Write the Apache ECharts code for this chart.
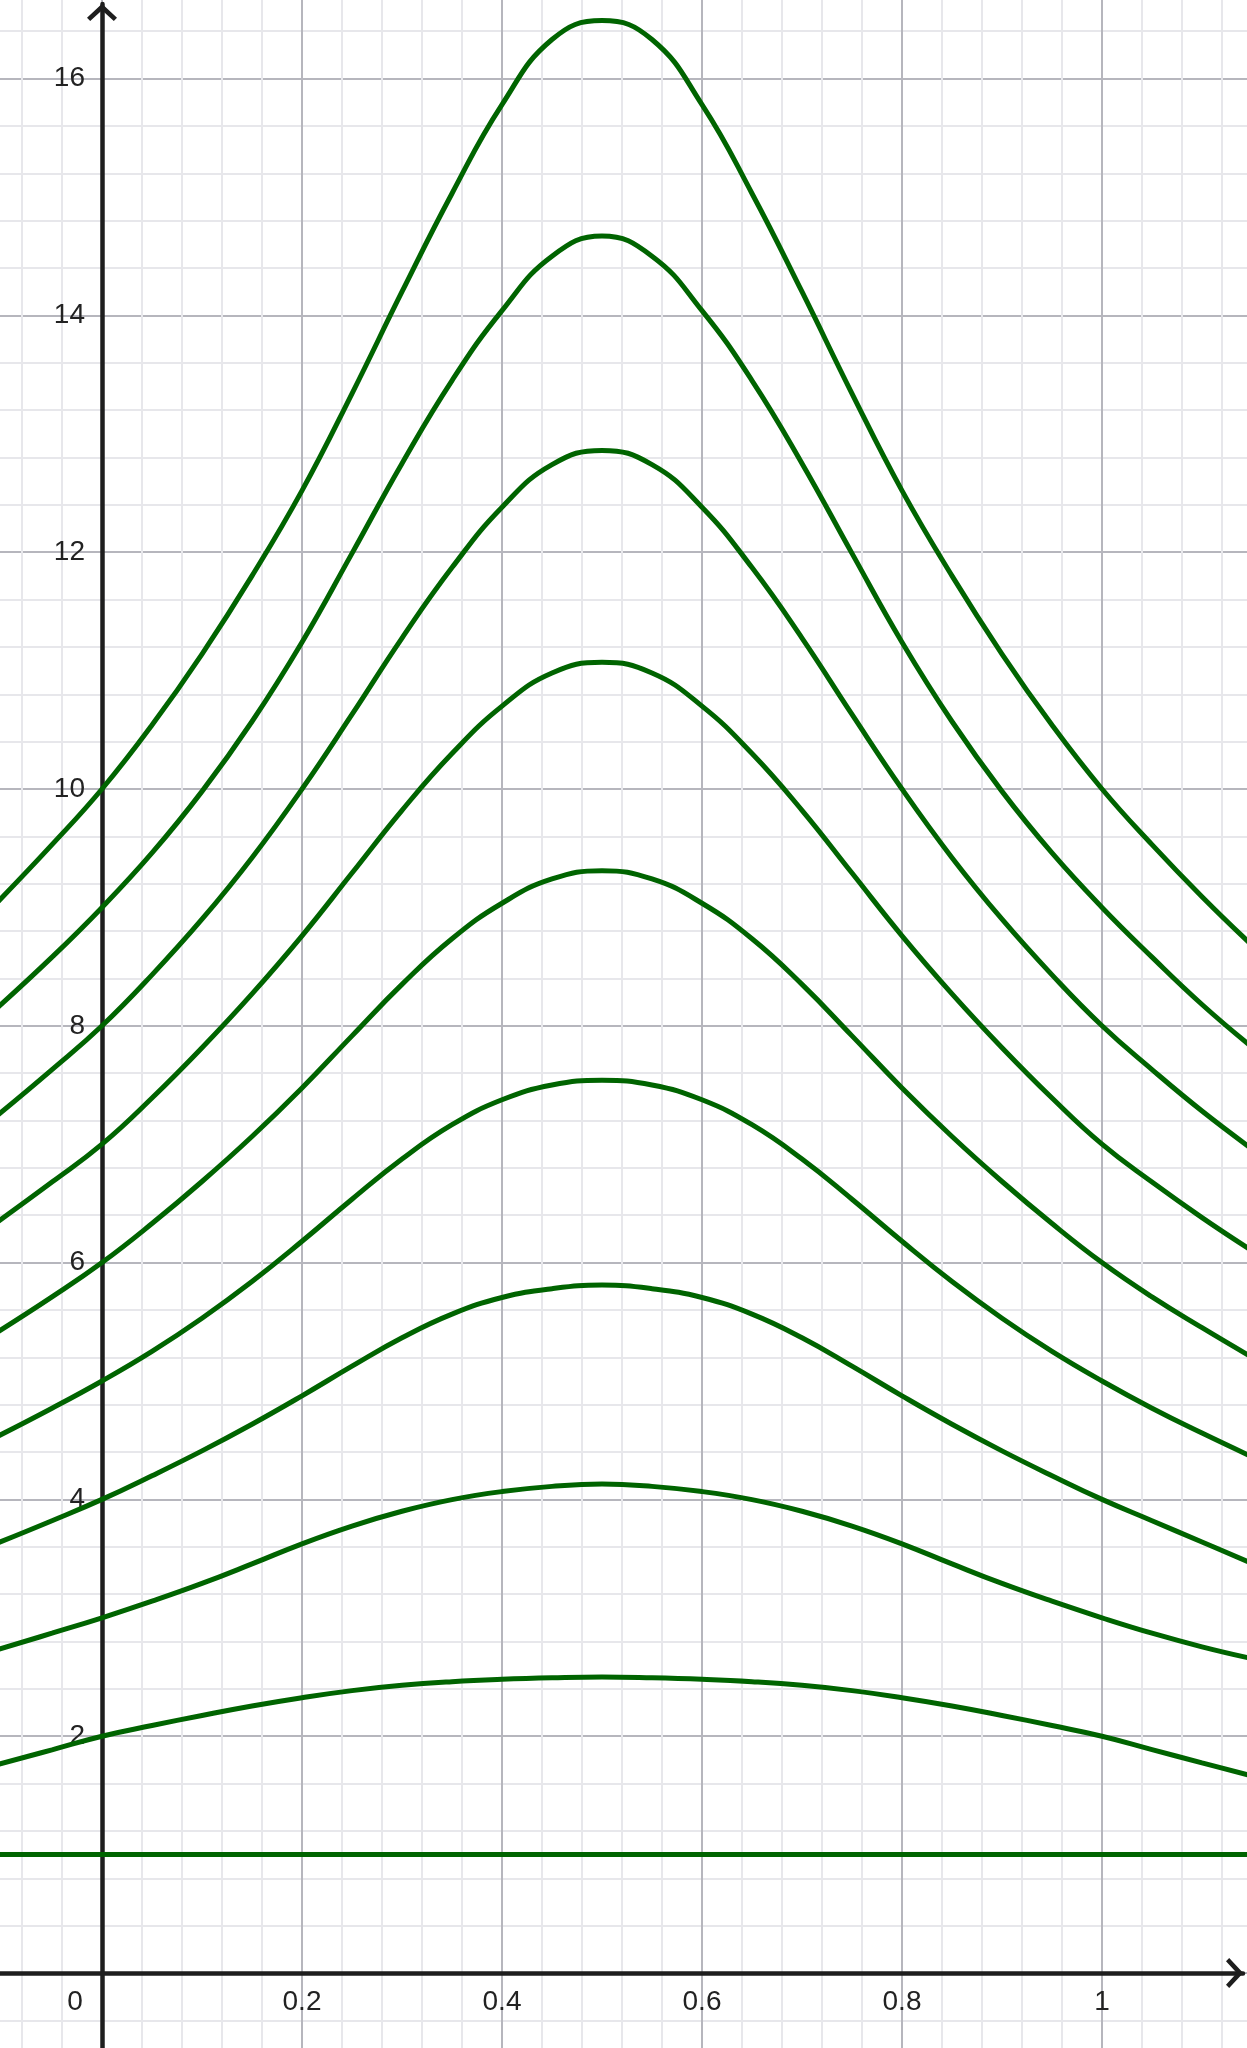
<!DOCTYPE html>
<html>
<head>
<meta charset="utf-8">
<script src="https://cdn.jsdelivr.net/npm/echarts@6/dist/echarts.min.js"></script>
<style>
  html, body { margin: 0; padding: 0; background: #ffffff; }
  #chart { width: 1247px; height: 2048px; }
</style>
</head>
<body>
<div id="chart"></div>
<script>
// ---- data ----
const xs = [-0.105, -0.05, 0, 0.05, 0.1, 0.15, 0.2, 0.25, 0.3, 0.35, 0.4, 0.45, 0.5,
            0.55, 0.6, 0.65, 0.7, 0.75, 0.8, 0.85, 0.9, 0.95, 1.0, 1.05, 1.1, 1.15];

const curve10 = [9.04, 9.53, 10.0, 10.54, 11.14, 11.80, 12.52, 13.34, 14.20, 15.03, 15.78, 16.33, 16.49,
                 16.33, 15.78, 15.03, 14.20, 13.34, 12.52, 11.80, 11.14, 10.54, 10.0, 9.53, 9.09, 8.68];
const curve9  = [8.15, 8.58, 9.0, 9.46, 9.98, 10.57, 11.24, 11.99, 12.75, 13.45, 14.04, 14.50, 14.67,
                 14.50, 14.04, 13.45, 12.75, 11.99, 11.24, 10.57, 9.98, 9.46, 9.0, 8.58, 8.18, 7.82];
const curve8  = [7.24, 7.63, 8.0, 8.43, 8.90, 9.42, 10.0, 10.63, 11.275, 11.87, 12.38, 12.74, 12.86,
                 12.74, 12.38, 11.87, 11.275, 10.63, 10.0, 9.42, 8.90, 8.43, 8.0, 7.63, 7.28, 6.96];
const curve7  = [6.34, 6.68, 7.0, 7.39, 7.815, 8.27, 8.76, 9.29, 9.82, 10.30, 10.70, 10.98, 11.07,
                 10.98, 10.70, 10.30, 9.82, 9.29, 8.76, 8.27, 7.815, 7.39, 7.0, 6.68, 6.38, 6.10];
const curve6  = [5.41, 5.71, 6.0, 6.33, 6.685, 7.065, 7.475, 7.915, 8.35, 8.735, 9.035, 9.24, 9.31,
                 9.24, 9.035, 8.735, 8.35, 7.915, 7.475, 7.065, 6.685, 6.33, 6.0, 5.71, 5.45, 5.20];
const curve5  = [4.53, 4.77, 5.0, 5.25, 5.53, 5.84, 6.18, 6.535, 6.875, 7.165, 7.375, 7.50, 7.54,
                 7.50, 7.375, 7.165, 6.875, 6.535, 6.18, 5.84, 5.53, 5.25, 5.0, 4.77, 4.56, 4.36];
const curve4  = [3.63, 3.82, 4.0, 4.20, 4.41, 4.635, 4.875, 5.125, 5.365, 5.565, 5.705, 5.78, 5.81,
                 5.78, 5.705, 5.565, 5.365, 5.125, 4.875, 4.635, 4.41, 4.20, 4.0, 3.82, 3.64, 3.46];
const curve3  = [2.73, 2.87, 3.0, 3.14, 3.29, 3.455, 3.625, 3.775, 3.90, 3.998, 4.066, 4.11, 4.13,
                 4.11, 4.066, 3.998, 3.90, 3.775, 3.625, 3.455, 3.29, 3.14, 3.0, 2.87, 2.755, 2.655];
const curve2  = [1.76, 1.885, 2.0, 2.09, 2.175, 2.255, 2.325, 2.385, 2.43, 2.46, 2.48, 2.493, 2.50,
                 2.493, 2.48, 2.46, 2.43, 2.385, 2.325, 2.255, 2.175, 2.09, 2.0, 1.887, 1.775, 1.665];
const curve1  = [1, 1, 1, 1, 1, 1, 1, 1, 1, 1, 1, 1, 1,
                 1, 1, 1, 1, 1, 1, 1, 1, 1, 1, 1, 1, 1];

const curves = [curve10, curve9, curve8, curve7, curve6, curve5, curve4, curve3, curve2, curve1];

// tick settings (labels)
const xTickStep = 0.2;
const yTickStep = 2;
const xLabelValues = [0, 0.2, 0.4, 0.6, 0.8, 1];
const yLabelValues = [2, 4, 6, 8, 10, 12, 14, 16];

// ---- chart ----
const chart = echarts.init(document.getElementById('chart'), null, { renderer: 'canvas' });

const GREEN = '#006400';
const AXIS = '#1e1e1e';
const LABEL = '#222222';

const chevron = 'path://M15,0 L30,14 L26.8,17.2 L15,6.4 L3.2,17.2 L0,14 Z';

const series = curves.map((c) => ({
  type: 'line',
  xAxisIndex: 0,
  yAxisIndex: 0,
  data: xs.map((x, i) => [x, c[i]]),
  smooth: 0.45,
  showSymbol: false,
  symbol: 'none',
  silent: true,
  z: 5,
  lineStyle: { color: GREEN, width: 5 },
  clip: false
}));

chart.setOption({
  animation: false,
  backgroundColor: '#ffffff',
  grid: [
    // oversized grid: graph paper, labels and curves
    { left: -98, right: -55, top: -158.2, bottom: -161.8, containLabel: false, outerBoundsMode: 'none' },
    // screen-sized grid: only the two axis lines with arrows
    { left: 0, right: 4, top: 4, bottom: 0, containLabel: false, outerBoundsMode: 'none' }
  ],
  xAxis: [
    {
      gridIndex: 0, type: 'value', min: -0.2, max: 1.2, interval: xTickStep,
      position: 'bottom', offset: -236.8,
      axisLine: { show: false, onZero: false },
      axisTick: { show: false },
      splitLine: { show: true, lineStyle: { color: '#b6b6bd', width: 2 } },
      minorTick: { show: false, splitNumber: 5 },
      minorSplitLine: { show: true, lineStyle: { color: '#e7e7eb', width: 2 } },
      axisLabel: {
        show: true, margin: 29, verticalAlign: 'middle', align: 'center',
        fontFamily: 'Liberation Sans', fontSize: 28, color: LABEL,
        formatter: function (v) {
          const r = Math.round(v * 10) / 10;
          if (!xLabelValues.some(t => Math.abs(t - r) < 1e-6)) return '';
          if (Math.abs(r) < 1e-6) return '{zero|0}';
          return String(r);
        },
        rich: { zero: { fontFamily: 'Liberation Sans', fontSize: 28, color: LABEL, padding: [0, 54, 0, 0] } }
      }
    },
    {
      gridIndex: 1, type: 'value', min: -0.102, max: 1.141,
      axisLine: {
        show: true, onZero: true,
        symbol: ['none', chevron], symbolSize: [30, 17.2], symbolOffset: [0, -8.4],
        lineStyle: { color: AXIS, width: 4.5 }
      },
      axisTick: { show: false }, axisLabel: { show: false }, splitLine: { show: false }
    }
  ],
  yAxis: [
    {
      gridIndex: 0, type: 'value', min: -2, max: 18, interval: yTickStep,
      position: 'left', offset: -200,
      axisLine: { show: false, onZero: false },
      axisTick: { show: false },
      splitLine: { show: true, lineStyle: { color: '#b6b6bd', width: 2 } },
      minorTick: { show: false, splitNumber: 5 },
      minorSplitLine: { show: true, lineStyle: { color: '#e7e7eb', width: 2 } },
      axisLabel: {
        show: true, margin: 17, align: 'right', verticalAlign: 'middle',
        fontFamily: 'Liberation Sans', fontSize: 28, color: LABEL,
        formatter: function (v) {
          const r = Math.round(v);
          return yLabelValues.indexOf(r) >= 0 ? String(r) : '';
        }
      }
    },
    {
      gridIndex: 1, type: 'value', min: -0.6334, max: 16.63,
      axisLine: {
        show: true, onZero: true,
        symbol: ['none', chevron], symbolSize: [30, 17.2], symbolOffset: [0, -8.4],
        lineStyle: { color: AXIS, width: 4.5 }
      },
      axisTick: { show: false }, axisLabel: { show: false }, splitLine: { show: false }
    }
  ],
  series: series
});
</script>
</body>
</html>
